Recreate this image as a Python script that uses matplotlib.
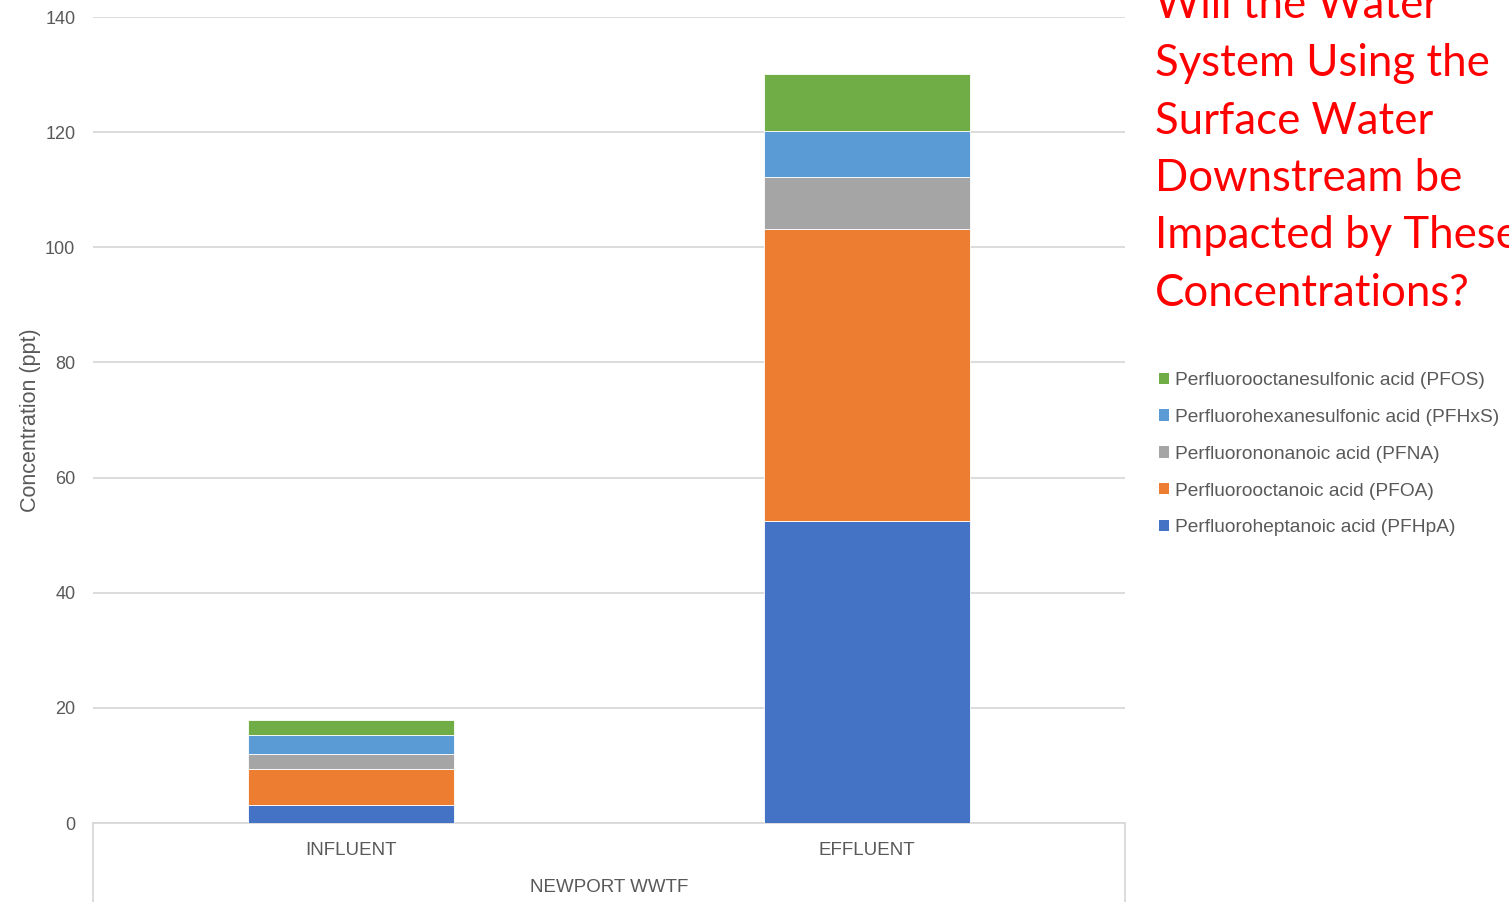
import matplotlib
matplotlib.use("Agg")
import matplotlib.pyplot as plt
from matplotlib.patches import Patch
from matplotlib.lines import Line2D
import numpy as np

categories = ["INFLUENT", "EFFLUENT"]
group_label = "NEWPORT WWTF"
series_names = [
    "Perfluoroheptanoic acid (PFHpA)",
    "Perfluorooctanoic acid (PFOA)",
    "Perfluorononanoic acid (PFNA)",
    "Perfluorohexanesulfonic acid (PFHxS)",
    "Perfluorooctanesulfonic acid (PFOS)",
]
PFHpA = [3.2, 52.5]
PFOA = [6.25, 50.7]
PFNA = [2.6, 9.0]
PFHxS = [3.3, 8.0]
PFOS = [2.6, 9.95]
series_values = [PFHpA, PFOA, PFNA, PFHxS, PFOS]
colors = ["#4472C4", "#ED7D31", "#A5A5A5", "#5B9BD5", "#70AD47"]
y_ticks = [0, 20, 40, 60, 80, 100, 120, 140]
title_lines = ["Will the Water", "System Using the", "Surface Water",
               "Downstream be", "Impacted by These", "Concentrations?"]

W, H = 1509, 902
fig = plt.figure(figsize=(W / 100, H / 100), dpi=100)
fig.patch.set_facecolor("white")

ax_left, ax_right = 93 / W, 1125 / W
ax_bottom, ax_top = (H - 823) / H, (H - 17) / H
ax = fig.add_axes([ax_left, ax_bottom, ax_right - ax_left, ax_top - ax_bottom])

txt_color = "#595959"
grid_color = "#D9D9D9"
x = np.arange(len(categories))
bottom = np.zeros(len(categories))
for name, vals, c in zip(series_names, series_values, colors):
    ax.bar(x, vals, width=0.4, bottom=bottom, color=c, label=name,
           edgecolor="white", linewidth=0.6, zorder=3)
    bottom += np.array(vals)

ax.set_xlim(-0.5, len(categories) - 0.5)
ax.set_ylim(0, 140)
ax.set_yticks(y_ticks)
ax.set_yticklabels([str(t) for t in y_ticks], fontsize=13, color=txt_color,
                   family="Liberation Sans")
ax.tick_params(axis="y", length=0, pad=12.7)
ax.tick_params(axis="x", length=0, pad=13.5)
ax.set_xticks(x)
ax.set_xticklabels(categories, fontsize=13.5, color=txt_color, family="Liberation Sans")
ax.yaxis.grid(True, color=grid_color, linewidth=1.3, zorder=0)
for s in ["top", "right", "left"]:
    ax.spines[s].set_visible(False)
ax.spines["bottom"].set_color(grid_color)
ax.spines["bottom"].set_linewidth(1.3)
ax.set_ylabel("Concentration (ppt)", fontsize=15.5, color=txt_color,
              family="Liberation Sans", labelpad=3)

# multi-level category axis frame
for xx in [ax_left, ax_right]:
    fig.add_artist(Line2D([xx, xx], [ax_bottom, -0.01], color=grid_color,
                          linewidth=1.3, transform=fig.transFigure))
fig.text((ax_left + ax_right) / 2, (H - 887) / H, group_label, fontsize=13.5,
         color=txt_color, family="Liberation Sans", ha="center", va="center")

# title
for i, ln in enumerate(title_lines):
    fig.text(1155 / W, (H - (6 + 57.5 * i)) / H, ln, fontsize=31.5, color="#FF0000",
             family="Lato", ha="left", va="center")

handles = [Patch(facecolor=c, edgecolor="none") for c in colors][::-1]
labels = series_names[::-1]
leg = fig.legend(handles, labels, loc="upper left", bbox_to_anchor=(1159 / W, (H - 372) / H),
                 frameon=False, handlelength=0.53, handleheight=0.53,
                 handletextpad=0.3, labelspacing=1.04, borderaxespad=0, borderpad=0,
                 prop={"family": "Liberation Sans", "size": 13.75})
for t in leg.get_texts():
    t.set_color(txt_color)

fig.savefig("out.png", dpi=100)
